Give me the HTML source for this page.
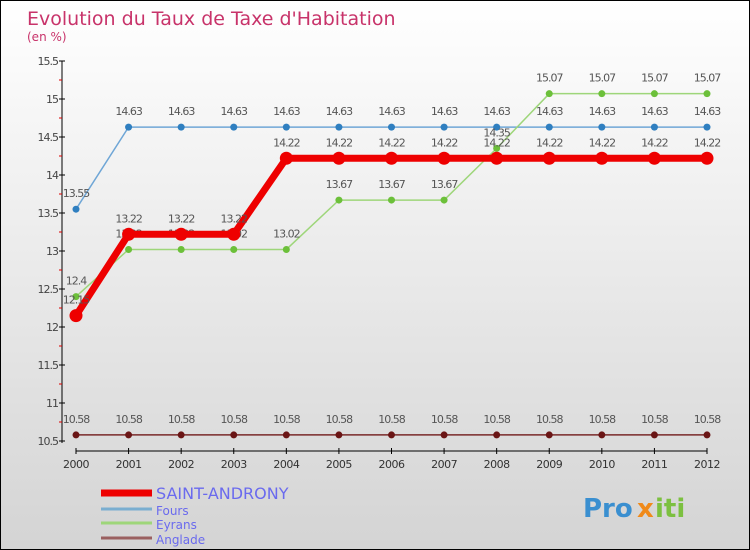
<!DOCTYPE html>
<html><head><meta charset="utf-8"><style>
body{margin:0}
#c{width:750px;height:550px;position:relative;box-sizing:border-box;border:1px solid #000;background:linear-gradient(#fff,#d4d4d4);font-family:"DejaVu Sans","Liberation Sans",sans-serif;overflow:hidden}
</style></head><body>
<div id="c">
<svg id="s" width="750" height="550" style="position:absolute;left:0;top:0"></svg>
</div>
<script>
const years=[2000,2001,2002,2003,2004,2005,2006,2007,2008,2009,2010,2011,2012];
const saint=[12.15,13.22,13.22,13.22,14.22,14.22,14.22,14.22,14.22,14.22,14.22,14.22,14.22];
const fours=[13.55,14.63,14.63,14.63,14.63,14.63,14.63,14.63,14.63,14.63,14.63,14.63,14.63];
const eyrans=[12.4,13.02,13.02,13.02,13.02,13.67,13.67,13.67,14.35,15.07,15.07,15.07,15.07];
const anglade=[10.58,10.58,10.58,10.58,10.58,10.58,10.58,10.58,10.58,10.58,10.58,10.58,10.58];
const yTicks=[10.5,11,11.5,12,12.5,13,13.5,14,14.5,15,15.5];
const s=document.getElementById('s');const NS='http://www.w3.org/2000/svg';
function X(i){return 75+i*(706-75)/(years.length-1);}
function Y(v){return 440-(v-10.5)*(380/5);}
function el(t,a,txt){const e=document.createElementNS(NS,t);for(const k in a)e.setAttribute(k,a[k]);if(txt!==undefined)e.textContent=txt;s.appendChild(e);return e;}
let e;
e=el('text',{x:26,y:24,'font-size':19,fill:'#c8336a'},"Evolution du Taux de Taxe d'Habitation");

e=el('text',{x:26,y:40,'font-size':12,fill:'#c8336a'},"(en %)");

e=el('line',{x1:61,y1:60,x2:61,y2:442,stroke:'#000'});

e=el('line',{x1:75,y1:450,x2:706,y2:450,stroke:'#000'});

yTicks.forEach((v,i)=>{el('line',{x1:58,y1:Y(v),x2:64,y2:Y(v),stroke:'#000'});
 if(i<yTicks.length-1)el('line',{x1:58,y1:Y(v+0.25),x2:61,y2:Y(v+0.25),stroke:'#d00'});
 e=el('text',{x:57,y:Y(v)+4,'font-size':11,fill:'#444','text-anchor':'end','letter-spacing':'-1'},String(v));
 });
years.forEach((y,i)=>{el('line',{x1:X(i),y1:447,x2:X(i),y2:453,stroke:'#000'});
 e=el('text',{x:X(i),y:467,'font-size':11,fill:'#333','text-anchor':'middle','letter-spacing':'-0.5'},String(y));
 });
function series(vals,color,w,r,name,fill){
 e=el('polyline',{points:vals.map((v,i)=>X(i)+','+Y(v)).join(' '),fill:'none',stroke:color,'stroke-width':w});
 
 vals.forEach((v,i)=>{e=el('circle',{cx:X(i),cy:Y(v),r:r,fill:fill});
  
  e=el('text',{x:X(i),y:Y(v)-12,'font-size':11,fill:'#555','text-anchor':'middle','letter-spacing':'-1'},String(v));
  });
}
series(anglade,'#7a2a2a',1.5,3.5,'anglade','#6a1515');
series(fours,'#6fa6d6',1.5,3.5,'fours','#2f7fc0');
series(eyrans,'#9ed67a',1.5,3.5,'eyrans','#6cc03a');
series(saint,'#ee0000',7,6.5,'saint-andronny','#ee0000');
const leg=[['SAINT-ANDRONY','#ee0000',7,16],['Fours','#7aaed0',3,12],['Eyrans','#9ed67a',3,12],['Anglade','#9a6060',3,12]];
const ly=[492,508,522,537];
leg.forEach((l,i)=>{e=el('line',{x1:100,y1:ly[i],x2:151,y2:ly[i],stroke:l[1],'stroke-width':l[2]});
 
 e=el('text',{x:155,y:ly[i]+6,'font-size':l[3],fill:'#6a6aee'},l[0]);
 });
e=el('text',{x:582,y:516,'font-size':26,'font-weight':'bold',fill:'#3a8fd0'},'Pro');

el('text',{x:636,y:516,'font-size':26,'font-weight':'bold',fill:'#f08a1a'},'x');
el('text',{x:654,y:516,'font-size':26,'font-weight':'bold',fill:'#7cc040'},'iti');
</script>
</body></html>
